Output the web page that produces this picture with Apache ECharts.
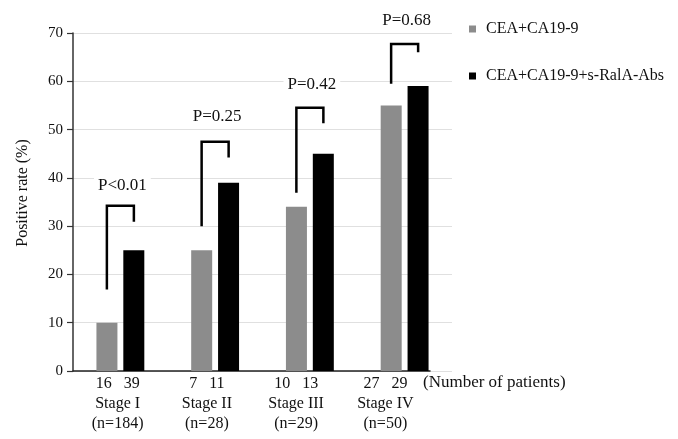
<!DOCTYPE html>
<html>
<head>
<meta charset="utf-8">
<script src="https://cdn.jsdelivr.net/npm/echarts@6/dist/echarts.min.js"></script>
<style>html,body{margin:0;padding:0;background:#fff;}#c{width:678px;height:439px;}</style>
</head>
<body>
<div id="c"></div>
<script>
const stages = ['Stage I', 'Stage II', 'Stage III', 'Stage IV'];
const totals = [184, 28, 29, 50];
const patientsA = [16, 7, 10, 27];
const patientsB = [39, 11, 13, 29];
const seriesNames = ['CEA+CA19-9', 'CEA+CA19-9+s-RalA-Abs'];
const valuesA = [10, 25, 34, 55];
const valuesB = [25, 39, 45, 59];
const pLabels = ['P<0.01', 'P=0.25', 'P=0.42', 'P=0.68'];
const bracketLeftBottom = [16.9, 30.0, 36.9, 59.5];
const bracketRightBottom = [30.9, 44.2, 51.3, 66.0];
const bracketTop = [34.2, 47.5, 54.5, 67.7];
const pLabelY = [38.5, 52.6, 59.4, 72.5];
const yTicks = [0, 10, 20, 30, 40, 50, 60, 70];

const FONT = "'Liberation Serif', 'Times New Roman', serif";
const bracketData = stages.map((s, i) => [i, bracketLeftBottom[i], bracketRightBottom[i], bracketTop[i], pLabelY[i]]);

const chart = echarts.init(document.getElementById('c'));
chart.setOption({
  animation: false,
  backgroundColor: '#fff',
  textStyle: { fontFamily: FONT },
  grid: [
    { left: 73, right: 226, top: 33, bottom: 68 },
    { left: 73, right: 248, top: 33, bottom: 68 }
  ],
  legend: {
    orient: 'vertical',
    left: 464,
    top: 14,
    itemWidth: 7,
    itemHeight: 7,
    itemGap: 27,
    icon: 'rect',
    textStyle: { fontFamily: FONT, fontSize: 16, color: '#111', lineHeight: 20, padding: [0, 0, 0, 5] },
    data: seriesNames
  },
  xAxis: [
    {
      type: 'category', gridIndex: 0, data: stages,
      axisLine: { show: false }, axisTick: { show: false }, axisLabel: { show: false }
    },
    {
      type: 'category', gridIndex: 1, data: stages,
      axisLine: { show: true, lineStyle: { color: '#222', width: 1.5 } },
      axisTick: { show: false },
      axisLabel: {
        margin: 3,
        fontFamily: FONT, fontSize: 16, color: '#111', lineHeight: 20,
        formatter: (v, i) => patientsA[i] + '   ' + patientsB[i] + '\n' + stages[i] + '\n(n=' + totals[i] + ')'
      }
    }
  ],
  yAxis: [
    {
      type: 'value', gridIndex: 0, min: 0, max: 70, interval: 10,
      name: 'Positive rate (%)', nameLocation: 'middle', nameGap: 42,
      nameTextStyle: { fontFamily: FONT, fontSize: 16, color: '#111', padding: [0, 0, 0, 18] },
      axisLine: { show: true, lineStyle: { color: '#333', width: 1.5 } },
      axisTick: { show: true, length: 6, lineStyle: { color: '#333', width: 1.2 } },
      axisLabel: { margin: 10, fontFamily: FONT, fontSize: 15, color: '#111',
        formatter: v => yTicks.indexOf(v) >= 0 ? String(v) : '' },
      splitLine: { show: true, lineStyle: { color: '#e0e0e0', width: 1 } }
    },
    { type: 'value', gridIndex: 1, min: 0, max: 70, show: false, splitLine: { show: false } }
  ],
  series: [
    {
      name: seriesNames[0], type: 'bar', xAxisIndex: 0, yAxisIndex: 0,
      data: valuesA, barWidth: 21, barGap: '28%',
      itemStyle: { color: '#8c8c8c' }
    },
    {
      name: seriesNames[1], type: 'bar', xAxisIndex: 0, yAxisIndex: 0,
      data: valuesB, barWidth: 21, barGap: '28%',
      itemStyle: { color: '#000' }
    },
    {
      type: 'custom', xAxisIndex: 0, yAxisIndex: 0, clip: false, silent: true,
      data: bracketData,
      encode: { x: 0, y: [1, 2, 3, 4] },
      renderItem: function (params, api) {
        const idx = api.value(0);
        const cx = api.coord([idx, 0])[0];
        const xl = cx - 13.5, xr = cx + 13.5;
        const yLB = api.coord([idx, api.value(1)])[1];
        const yRB = api.coord([idx, api.value(2)])[1];
        const yT = api.coord([idx, api.value(3)])[1];
        const yL = api.coord([idx, api.value(4)])[1];
        return {
          type: 'group',
          children: [
            { type: 'polyline', shape: { points: [[xl, yLB], [xl, yT], [xr, yT], [xr, yRB]] },
              style: { stroke: '#000', lineWidth: 2.5, fill: null } },
            { type: 'text', x: cx + 2, y: yL,
              style: { text: pLabels[params.dataIndex], font: "17px " + FONT, fill: '#111',
                align: 'center', verticalAlign: 'middle', backgroundColor: '#fff', padding: [0, 4] } }
          ]
        };
      }
    }
  ],
  graphic: [
    { type: 'text', x: 423, y: 383,
      style: { text: '(Number of patients)', font: "17px " + FONT, fill: '#111', verticalAlign: 'middle' } }
  ]
});
</script>
</body>
</html>
